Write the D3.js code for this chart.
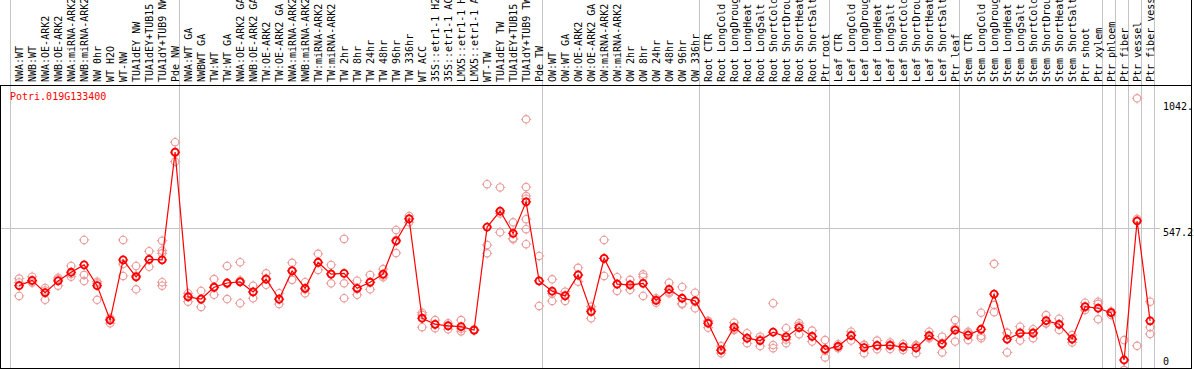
<!DOCTYPE html>
<html>
<head>
<meta charset="utf-8">
<script src="https://cdn.jsdelivr.net/npm/d3@7/dist/d3.min.js"></script>
<style>
body { margin: 0; background: #fff; }
text { font-family: "DejaVu Sans Mono", monospace; font-size: 10px; }
</style>
</head>
<body>
<script>
var geneName = "Potri.019G133400";

var categories = [
    "NWA:WT", "NWB:WT", "NWA:OE-ARK2", "NWB:OE-ARK2", "NWA:miRNA-ARK2", "NWB:miRNA-ARK2",
    "NW 0hr", "WT H2O", "WT-NW", "TUA1dEY NW", "TUA1dEY+TUB15 NW", "TUA1dY+TUB9 NW", "Pde NW",
    "NWA:WT GA", "NWBWT GA", "TW:WT", "TW:WT GA", "NWA:OE-ARK2 GA", "NWB:OE-ARK2 GA",
    "TW:OE-ARK2", "TW:OE-ARK2 GA", "NWA:miRNA-ARK2", "NWB:miRNA-ARK2", "TW:miRNA-ARK2",
    "TW:miRNA-ARK2", "TW 2hr", "TW 8hr", "TW 24hr", "TW 48hr", "TW 96hr", "TW 336hr", "WT ACC",
    "35S::etr1-1 H2O", "35S::etr1-1 ACC", "LMX5::etr1-1 H2O", "LMX5::etr1-1 ACC", "WT-TW",
    "TUA1dEY TW", "TUA1dEY+TUB15 TW", "TUA1dY+TUB9 TW", "Pde TW",
    "OW:WT", "OW:WT GA", "OW:OE-ARK2", "OW:OE-ARK2 GA", "OW:miRNA-ARK2", "OW:miRNA-ARK2",
    "OW 2hr", "OW 8hr", "OW 24hr", "OW 48hr", "OW 96hr", "OW 336hr",
    "Root CTR", "Root LongCold", "Root LongDrought", "Root LongHeat", "Root LongSalt",
    "Root ShortCold", "Root ShortDrought", "Root ShortHeat", "Root ShortSalt", "Ptr root",
    "Leaf CTR", "Leaf LongCold", "Leaf LongDrought", "Leaf LongHeat", "Leaf LongSalt",
    "Leaf ShortCold", "Leaf ShortDrought", "Leaf ShortHeat", "Leaf ShortSalt", "Ptr leaf",
    "Stem CTR", "Stem LongCold", "Stem LongDrought", "Stem LongHeat", "Stem LongSalt",
    "Stem ShortCold", "Stem ShortDrought", "Stem ShortHeat", "Stem ShortSalt", "Ptr shoot", "Ptr xylem",
    "Ptr phloem", "Ptr fiber", "Ptr vessel", "Ptr fiber vessel"
];

// number of columns in each block between grey separators
var groupSizes = [13, 28, 12, 10, 10, 11, 1, 1, 1, 1];

var means = [
    329, 349, 302, 347, 380, 408, 329, 198, 427, 362, 429, 427, 837,
    286, 278, 323, 339, 343, 305, 354, 278, 385, 319, 418, 373, 376, 319, 342, 373, 499, 583,
    205, 182, 176, 173, 160, 552, 613, 528, 648, 347,
    308, 290, 370, 230, 433, 335, 332, 338, 273, 315, 281, 271,
    186, 84, 171, 129, 120, 152, 134, 169, 136, 87,
    98, 139, 93, 102, 102, 96, 92, 139, 107, 160,
    141, 163, 297, 125, 148, 148, 196, 182, 126, 249, 243,
    226, 46, 575, 195
];

var replicates = [
    [356, 341, 290], [363, 345, 340], [320, 311, 275], [359, 353, 329], [404, 373, 363],
    [503, 370, 347], [344, 338, 275], [206, 200, 186], [503, 411, 366], [404, 367, 315],
    [460, 427, 401], [500, 462, 452, 342, 329], [875, 834, 801],
    [300, 290, 268], [309, 278, 248], [354, 321, 294], [404, 336, 278], [418, 349, 262],
    [329, 305, 281], [376, 356, 332], [300, 276, 259], [416, 388, 351], [342, 315, 300],
    [450, 416, 389], [408, 374, 338], [507, 338, 281], [348, 316, 294], [370, 341, 315],
    [392, 368, 361], [541, 503, 453], [594, 585, 570], [226, 218, 171], [198, 181, 167],
    [186, 178, 163], [198, 165, 155], [163, 160, 158], [715, 484, 452], [703, 604, 532],
    [570, 509, 506], [962, 704, 670, 660, 582, 544, 487], [442, 347, 252],
    [353, 299, 271], [306, 292, 271], [397, 368, 344], [249, 236, 205], [503, 432, 366],
    [361, 336, 309], [351, 332, 313], [372, 363, 290], [281, 275, 264], [340, 306, 300],
    [324, 261, 258], [302, 267, 243],
    [195, 193, 169], [99, 82, 72], [188, 163, 160], [148, 129, 110], [135, 124, 99],
    [262, 103, 91], [167, 124, 110], [186, 177, 144], [158, 136, 116], [122, 82, 56],
    [106, 98, 91], [154, 142, 120], [103, 104, 72], [120, 100, 87], [113, 105, 88],
    [107, 95, 84], [103, 100, 72], [154, 133, 129], [135, 111, 75], [198, 167, 116],
    [154, 148, 122], [226, 137, 129], [412, 255, 228], [150, 149, 75], [173, 151, 120],
    [163, 151, 129], [217, 185, 186], [203, 182, 160], [141, 124, 113], [264, 246, 236],
    [268, 260, 201],
    [230, 230, 217], [122, 8, 8], [1042, 583, 100], [268, 171, 145]
];

var yTicks = [1042, 547.2, 0];
var yTickLabels = ["1042.", "547.2", "0"];
var yGrid = [547.2];

var width = 1194,
    height = 370;
var headerBottom = 85.5,
    plotBottom = 368.5;

var svg = d3.select("body")
    .append("svg")
    .attr("width", width)
    .attr("height", height);

var n = categories.length;
var x = d3.scaleLinear().domain([0, n]).range([10.5, 1154.5]);
var y = d3.scaleLinear().domain([0, 1042]).range([372.1, 98.3]);
function cx(i) { return x(i) + 8.6; }

// grey separators between blocks (run through the header too)
var bounds = [0].concat(Array.from(d3.cumsum(groupSizes)));
svg.selectAll("line.vgrid")
    .data(bounds)
    .enter()
    .append("line")
    .attr("class", "vgrid")
    .attr("x1", function (d) { return Math.round(x(d)) - 0.5; })
    .attr("x2", function (d) { return Math.round(x(d)) - 0.5; })
    .attr("y1", 0)
    .attr("y2", plotBottom)
    .style("stroke", "#c4c4c4")
    .style("stroke-width", 1);

svg.selectAll("line.hgrid")
    .data(yGrid)
    .enter()
    .append("line")
    .attr("class", "hgrid")
    .attr("x1", 1)
    .attr("x2", 1160)
    .attr("y1", function (d) { return Math.round(y(d)) + 0.5; })
    .attr("y2", function (d) { return Math.round(y(d)) + 0.5; })
    .style("stroke", "#c4c4c4")
    .style("stroke-width", 1);

// frame
svg.append("line").attr("x1", 0).attr("x2", 1192).attr("y1", headerBottom).attr("y2", headerBottom)
    .style("stroke", "#000");
svg.append("line").attr("x1", 0.5).attr("x2", 0.5).attr("y1", headerBottom).attr("y2", plotBottom)
    .style("stroke", "#000");
svg.append("line").attr("x1", 1191.5).attr("x2", 1191.5).attr("y1", 0).attr("y2", plotBottom)
    .style("stroke", "#000");
svg.append("line").attr("x1", 0).attr("x2", 1192).attr("y1", plotBottom).attr("y2", plotBottom)
    .style("stroke", "#000");

// vertical sample labels
svg.selectAll("text.cat")
    .data(categories)
    .enter()
    .append("text")
    .attr("class", "cat")
    .attr("transform", function (d, i) { return "translate(" + (cx(i) + 3.8) + ",82) rotate(-90)"; })
    .style("fill", "#000")
    .text(function (d) { return d; });

// y labels on the right
var labelShift = [12, 8, -7];
svg.selectAll("text.ytick")
    .data(yTicks)
    .enter()
    .append("text")
    .attr("class", "ytick")
    .attr("x", 1163)
    .attr("y", function (d, i) { return y(d) + labelShift[i]; })
    .style("fill", "#000")
    .text(function (d, i) { return yTickLabels[i]; });

svg.append("text")
    .attr("x", 10)
    .attr("y", 99.5)
    .style("fill", "#f00")
    .text(geneName);

// data area
svg.append("clipPath").attr("id", "plotclip")
    .append("rect").attr("x", 1).attr("y", headerBottom + 0.5)
    .attr("width", 1190).attr("height", plotBottom - headerBottom - 1);
var plot = svg.append("g").attr("clip-path", "url(#plotclip)");

function marker(g, col, r, sw) {
    g.append("circle").attr("r", r)
        .style("fill", "none").style("stroke", col).style("stroke-width", sw);
    [[0, -1], [0, 1], [-1, 0], [1, 0]].forEach(function (v) {
        g.append("line")
            .attr("x1", v[0] * (r - 0.5)).attr("y1", v[1] * (r - 0.5))
            .attr("x2", v[0] * (r + 1.5)).attr("y2", v[1] * (r + 1.5))
            .style("stroke", col).style("stroke-width", 1);
    });
}

var reps = [];
replicates.forEach(function (arr, i) {
    arr.forEach(function (v) { reps.push({ i: i, v: v }); });
});
plot.selectAll("g.rep")
    .data(reps)
    .enter()
    .append("g")
    .attr("class", "rep")
    .attr("transform", function (d) { return "translate(" + cx(d.i) + "," + y(d.v) + ")"; })
    .each(function () { marker(d3.select(this), "#eb9c9c", 3.7, 1.1); });

var line = d3.line()
    .x(function (d, i) { return cx(i); })
    .y(function (d) { return y(d); });
plot.append("path")
    .datum(means)
    .attr("d", line)
    .style("fill", "none")
    .style("stroke", "#f00")
    .style("stroke-width", 1.2);

plot.selectAll("g.mean")
    .data(means)
    .enter()
    .append("g")
    .attr("class", "mean")
    .attr("transform", function (d, i) { return "translate(" + cx(i) + "," + y(d) + ")"; })
    .each(function () { marker(d3.select(this), "#f00", 3.5, 1.8); });
</script>
</body>
</html>
